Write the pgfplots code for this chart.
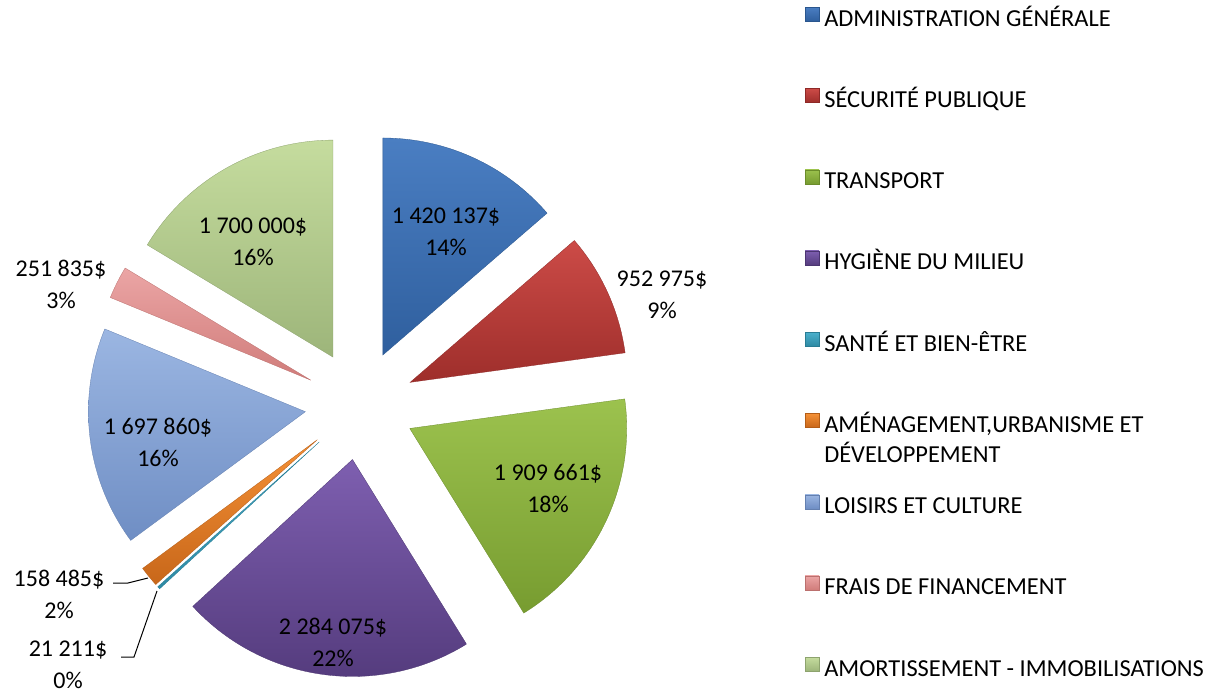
\documentclass[border=0pt]{standalone}
\usepackage{fontspec}
\setmainfont{Carlito}
\usepackage{pgfplots}
\usepackage{pgfplotstable}
\pgfplotsset{compat=1.18}

% Budget values (dollars), in legend order
\pgfplotstableread{
id value
0 1420137
1 952975
2 1909661
3 2284075
4 21211
5 158485
6 1697860
7 251835
8 1700000
}\pietable

\def\piecx{360}\def\piecy{405}\def\pier{217}\def\pieex{55}
\gdef\total{0}
\foreach \i in {0,...,8}{%
  \pgfplotstablegetelem{\i}{value}\of\pietable
  \xdef\total{\fpeval{\total+\pgfplotsretval}}%
}
\gdef\cum{0}
\foreach \i in {0,...,8}{%
  \pgfplotstablegetelem{\i}{value}\of\pietable
  \xdef\cumA{\cum}%
  \xdef\cum{\fpeval{\cum+\pgfplotsretval}}%
  \expandafter\xdef\csname sA\i\endcsname{\fpeval{round(\cumA/\total*360,4)}}%
  \expandafter\xdef\csname sB\i\endcsname{\fpeval{round(\cum/\total*360,4)}}%
  \expandafter\xdef\csname ax\i\endcsname{\fpeval{round(\piecx+\pieex*sind((\cumA+\cum)/2/\total*360),3)}}%
  \expandafter\xdef\csname ay\i\endcsname{\fpeval{round(\piecy-\pieex*cosd((\cumA+\cum)/2/\total*360),3)}}%
}

\definecolor{c0T}{HTML}{4A7EC2}\definecolor{c0B}{HTML}{2F5F9E}
\definecolor{c1T}{HTML}{CC4B47}\definecolor{c1B}{HTML}{9E2E2B}
\definecolor{c2T}{HTML}{9CC24E}\definecolor{c2B}{HTML}{779C30}
\definecolor{c3T}{HTML}{7E5FB0}\definecolor{c3B}{HTML}{553C7E}
\definecolor{c4T}{HTML}{4BB0CC}\definecolor{c4B}{HTML}{2E8AA4}
\definecolor{c5T}{HTML}{F59136}\definecolor{c5B}{HTML}{C8671A}
\definecolor{c6T}{HTML}{9BB6E2}\definecolor{c6B}{HTML}{6F8EC4}
\definecolor{c7T}{HTML}{EBA5A5}\definecolor{c7B}{HTML}{D07C7A}
\definecolor{c8T}{HTML}{C5DC9E}\definecolor{c8B}{HTML}{9DB57A}

\newcommand\pieslice[1]{%
  \edef\doslice{\noexpand\addplot[draw=c#1B!90!black, line width=0.3pt,
    top color=c#1T, bottom color=c#1B,
    domain=\csname sA#1\endcsname:\csname sB#1\endcsname, samples=60, variable=\noexpand\t]
    ({\csname ax#1\endcsname+\pier*sin(\noexpand\t)}, {\csname ay#1\endcsname-\pier*cos(\noexpand\t)})
    -- (axis cs:\csname ax#1\endcsname,\csname ay#1\endcsname) -- cycle;}%
  \doslice
}

\pgfplotsset{pie legend/.style={legend image code/.code={\path[##1] (0pt,-1pt) rectangle (14pt,13pt);}}}

\newcommand\lab{\fontsize{24}{32}\selectfont}

\begin{document}
\begin{tikzpicture}
\begin{axis}[name=ax,
  scale only axis, width=1218pt, height=695pt,
  xmin=0, xmax=1218, ymin=0, ymax=695, y dir=reverse,
  hide axis, clip=false, pie legend,
  legend cell align=left,
  legend style={at={(axis cs:805,7)}, anchor=north west, draw=none, fill=none,
    inner sep=0pt, outer sep=0pt, row sep=57.1pt, column sep=5pt,
    font=\fontsize{24.4}{30}\selectfont,
    nodes={inner sep=0pt, text height=17pt, text depth=5pt}},
]
\pieslice{0}\addlegendentry{ADMINISTRATION GÉNÉRALE}
\pieslice{1}\addlegendentry{SÉCURITÉ PUBLIQUE}
\pieslice{2}\addlegendentry{TRANSPORT}
\pieslice{3}\addlegendentry{HYGIÈNE DU MILIEU}
\pieslice{4}\addlegendentry{SANTÉ ET BIEN-ÊTRE}
\pieslice{5}\addlegendentry{\begin{tabular}[t]{@{}l@{}}AMÉNAGEMENT,URBANISME ET\\DÉVELOPPEMENT\end{tabular}}
\pieslice{6}\addlegendentry{LOISIRS ET CULTURE}
\pieslice{7}\addlegendentry{FRAIS DE FINANCEMENT}
\pieslice{8}\addlegendentry{AMORTISSEMENT - IMMOBILISATIONS}

% leader lines
\addplot[black, line width=1pt, forget plot] coordinates {(113,583) (128,583) (148,578)};
\addplot[black, line width=1pt, forget plot] coordinates {(121,657) (134,657) (157,591)};

% data labels
\node[align=center, font=\lab] at (axis cs:446,232) {1 420 137\$\\14\%};
\node[align=center, font=\lab] at (axis cs:662,295) {952 975\$\\9\%};
\node[align=center, font=\lab] at (axis cs:548,488) {1 909 661\$\\18\%};
\node[align=center, font=\lab] at (axis cs:333,642) {2 284 075\$\\22\%};
\node[align=center, font=\lab] at (axis cs:68,665) {21 211\$\\0\%};
\node[align=center, font=\lab] at (axis cs:59,594) {158 485\$\\2\%};
\node[align=center, font=\lab] at (axis cs:158,442) {1 697 860\$\\16\%};
\node[align=center, font=\lab] at (axis cs:61,284) {251 835\$\\3\%};
\node[align=center, font=\lab] at (axis cs:253,242) {1 700 000\$\\16\%};
\end{axis}
\pgfresetboundingbox
\path (ax.south west) rectangle (ax.north east);
\end{tikzpicture}
\end{document}
